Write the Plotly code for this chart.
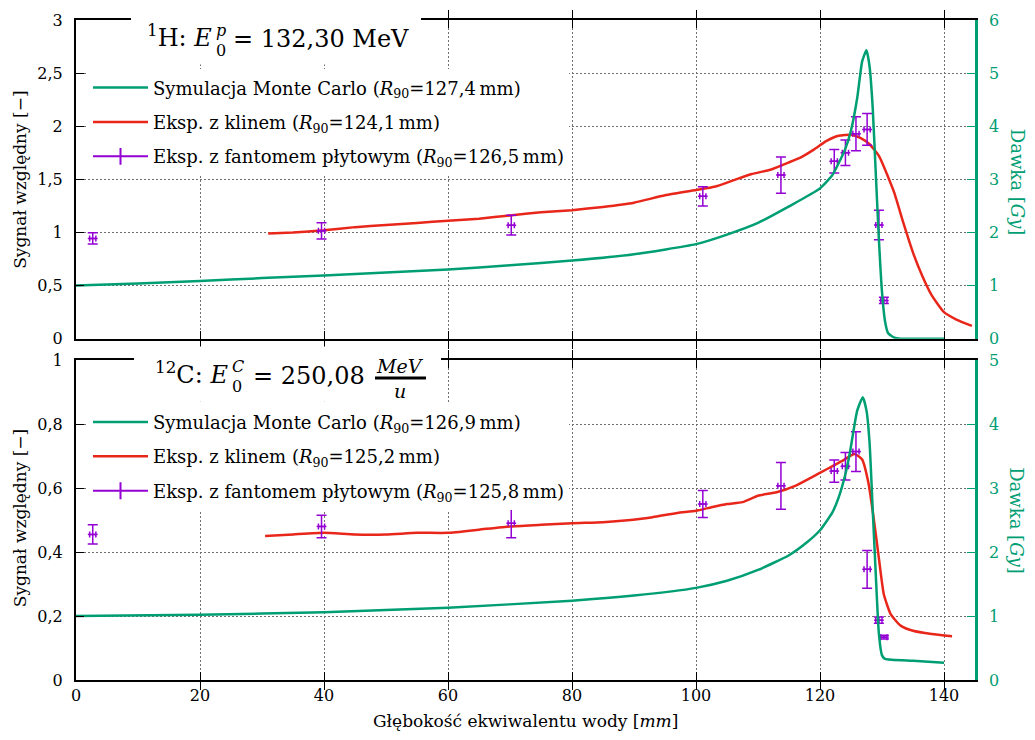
import plotly.graph_objects as go

# ---------------------------------------------------------------- data
# proton beam (top panel)
mc_p_x = [0, 10, 20, 30, 40, 50, 60, 70, 80, 90, 100, 105, 110, 115, 120, 122, 124, 125, 126,
          126.8, 127.5, 128, 128.5, 129, 129.5, 130, 130.5, 131, 132, 133, 140]
mc_p_dose = [1.0, 1.04, 1.086, 1.14, 1.19, 1.245, 1.30, 1.38, 1.47, 1.59, 1.78, 1.96, 2.18, 2.49,
             2.83, 3.08, 3.55, 3.92, 4.53, 5.22, 5.43, 5.12, 4.35, 3.1, 1.87, 0.88, 0.32, 0.1,
             0.02, 0.0, 0.0]

wedge_p_x = [31, 35, 40, 45, 50, 55, 60, 65, 70, 75, 80, 85, 90, 95, 100, 103, 106, 109, 112, 115,
             117, 119, 121, 123, 125, 126.5, 128, 129.5, 131, 132, 133.5, 135, 136.5, 138, 140,
             142, 144.5]
wedge_p_sig = [0.99, 1.0, 1.02, 1.05, 1.07, 1.09, 1.11, 1.13, 1.16, 1.19, 1.21, 1.24, 1.28, 1.35,
               1.40, 1.43, 1.49, 1.55, 1.59, 1.66, 1.71, 1.78, 1.86, 1.91, 1.92, 1.89, 1.83, 1.72,
               1.52, 1.37, 1.08, 0.81, 0.59, 0.41, 0.25, 0.18, 0.12]

plate_x = [2.7, 39.6, 70.2, 101.1, 113.7, 122.3, 124.1, 125.8, 127.6, 129.5, 130.3]
plate_p_sig = [0.944, 1.015, 1.068, 1.34, 1.54, 1.67, 1.75, 1.93, 1.97, 1.07, 0.36]
plate_p_err = [0.052, 0.077, 0.093, 0.09, 0.17, 0.11, 0.12, 0.16, 0.15, 0.14, 0.03]

# carbon beam (bottom panel)
mc_c_x = [0, 20, 40, 60, 80, 90, 100, 105, 110, 115, 118, 120, 122, 123, 124, 124.8, 125.5, 126,
          126.9, 127.5, 128, 128.5, 129, 129.5, 130, 130.5, 135, 140]
mc_c_dose = [1.0, 1.02, 1.06, 1.13, 1.24, 1.32, 1.44, 1.55, 1.72, 1.95, 2.16, 2.34, 2.62, 2.85,
             3.18, 3.54, 3.95, 4.21, 4.42, 4.21, 3.70, 2.67, 1.64, 0.72, 0.385, 0.33, 0.30, 0.27]

wedge_c_x = [30.5, 35, 40, 45, 50, 55, 60, 65, 70, 75, 80, 85, 89, 93, 97, 100, 102.5, 105, 107.5,
             110, 113, 116, 118.5, 121, 123.5, 125.6, 126.8, 127.8, 128.6, 129.5, 130.3, 131.4,
             133, 135, 138, 141.3]
wedge_c_sig = [0.45, 0.455, 0.46, 0.455, 0.455, 0.46, 0.46, 0.47, 0.48, 0.485, 0.49, 0.493, 0.499,
               0.509, 0.522, 0.529, 0.54, 0.55, 0.556, 0.576, 0.587, 0.607, 0.632, 0.658, 0.684,
               0.706, 0.689, 0.617, 0.514, 0.38, 0.267, 0.206, 0.17, 0.154, 0.144, 0.137]

plate_c_sig = [0.455, 0.48, 0.49, 0.55, 0.607, 0.653, 0.668, 0.714, 0.346, 0.187, 0.134]
plate_c_err = [0.03, 0.035, 0.045, 0.042, 0.073, 0.035, 0.043, 0.062, 0.059, 0.01, 0.006]
plate_dx = 0.5

# tick labels
x_ticks = [0, 20, 40, 60, 80, 100, 120, 140]
y_top_vals = [0, 0.5, 1, 1.5, 2, 2.5, 3]
y_top_text = ['0', '0,5', '1', '1,5', '2', '2,5', '3']
y2_top_vals = [0, 1, 2, 3, 4, 5, 6]
y_bot_vals = [0, 0.2, 0.4, 0.6, 0.8, 1]
y_bot_text = ['0', '0,2', '0,4', '0,6', '0,8', '1']
y2_bot_vals = [0, 1, 2, 3, 4, 5]

names_p = ['Symulacja Monte Carlo (<i>R</i><sub>90</sub>=127,4\u2009mm)',
           'Eksp. z klinem (<i>R</i><sub>90</sub>=124,1\u2009mm)',
           'Eksp. z fantomem płytowym (<i>R</i><sub>90</sub>=126,5\u2009mm)']
names_c = ['Symulacja Monte Carlo (<i>R</i><sub>90</sub>=126,9\u2009mm)',
           'Eksp. z klinem (<i>R</i><sub>90</sub>=125,2\u2009mm)',
           'Eksp. z fantomem płytowym (<i>R</i><sub>90</sub>=125,8\u2009mm)']

# ---------------------------------------------------------------- style
GREEN = '#009e73'
RED = '#e8261a'
PURPLE = '#9400d3'
FONT = 'DejaVu Serif'
W, H = 1035, 740
ML, MR, MT, MB = 76, 60, 11, 60


def fx(p):
    return (p - ML) / (W - ML - MR)


def fy(p):
    return (H - MB - p) / (H - MT - MB)


fig = go.Figure()


def add_panel(xa, yl, yr, leg, mc_x, mc_d, kx, ky, ps, pe, names):
    fig.add_trace(go.Scatter(
        x=mc_x, y=mc_d, xaxis=xa, yaxis=yr, mode='lines', name=names[0],
        line=dict(color=GREEN, width=2.5, shape='spline', smoothing=0.5),
        legend=leg, legendgroup=leg + 'a'))
    fig.add_trace(go.Scatter(
        x=kx, y=ky, xaxis=xa, yaxis=yl, mode='lines', name=names[1],
        line=dict(color=RED, width=2.5, shape='spline', smoothing=0.5),
        legend=leg, legendgroup=leg + 'b'))
    fig.add_trace(go.Scatter(
        x=plate_x, y=ps, xaxis=xa, yaxis=yl, mode='markers', showlegend=False,
        marker=dict(symbol='line-ew', size=7, color=PURPLE,
                    line=dict(color=PURPLE, width=1.5)),
        error_y=dict(type='data', array=pe, color=PURPLE, thickness=1.5, width=5),
        error_x=dict(type='constant', value=plate_dx, color=PURPLE, thickness=1.5, width=3),
        legendgroup=leg + 'c'))
    # legend key for the plate-phantom series
    fig.add_trace(go.Scatter(
        x=[None], y=[None], xaxis=xa, yaxis=yl, mode='lines+markers', name=names[2],
        line=dict(color=PURPLE, width=2),
        marker=dict(symbol='line-ns', size=12, color=PURPLE,
                    line=dict(color=PURPLE, width=2)),
        legend=leg, legendgroup=leg + 'c'))


add_panel('x2', 'y', 'y2', 'legend', mc_p_x, mc_p_dose, wedge_p_x, wedge_p_sig,
          plate_p_sig, plate_p_err, names_p)
add_panel('x', 'y3', 'y4', 'legend2', mc_c_x, mc_c_dose, wedge_c_x, wedge_c_sig,
          plate_c_sig, plate_c_err, names_c)

tickfont = dict(family=FONT, size=16, color='black')
gtickfont = dict(family=FONT, size=16, color=GREEN)
grid = dict(showgrid=True, gridcolor='#707070', gridwidth=1, griddash='2px,2px')

xcommon = dict(range=[0, 145], tickvals=x_ticks, ticks='inside', ticklen=8, tickwidth=1.2,
               tickcolor='black', showline=True, linecolor='black', linewidth=2,
               mirror='allticks', zeroline=False, tickfont=tickfont, **grid)
ycommon = dict(ticks='inside', ticklen=8, tickwidth=1.2, tickcolor='black', showline=True,
               linecolor='black', linewidth=2, zeroline=False, tickfont=tickfont,
               ticklabelstandoff=8, **grid)
yrcommon = dict(side='right', ticks='inside', ticklen=8, tickwidth=1.2, tickcolor=GREEN,
                showline=True, linecolor=GREEN, linewidth=2.5, zeroline=False,
                showgrid=False, tickfont=gtickfont, ticklabelstandoff=8)

top_lo = fy(334)
bot_hi = fy(355.7)

legfont = dict(family=FONT, size=18)
fig.update_layout(
    width=W, height=H, margin=dict(l=ML, r=MR, t=MT, b=MB),
    paper_bgcolor='white', plot_bgcolor='white',
    font=dict(family=FONT, size=17, color='black'),
    xaxis=dict(domain=[0, 1], anchor='y3', **xcommon),
    xaxis2=dict(domain=[0, 1], anchor='y', matches='x', showticklabels=False, **xcommon),
    yaxis=dict(domain=[top_lo, 1], anchor='x2', range=[0, 3], tickvals=y_top_vals,
               ticktext=y_top_text, **ycommon),
    yaxis2=dict(overlaying='y', anchor='x2', range=[0, 6], tickvals=y2_top_vals, **yrcommon),
    yaxis3=dict(domain=[0, bot_hi], anchor='x', range=[0, 1], tickvals=y_bot_vals,
                ticktext=y_bot_text, **ycommon),
    yaxis4=dict(overlaying='y3', anchor='x', range=[0, 5], tickvals=y2_bot_vals, **yrcommon),
    legend=dict(x=fx(88), y=fy(61), xanchor='left', yanchor='top', bgcolor='white',
                font=legfont, tracegroupgap=8, traceorder='grouped', itemwidth=55),
    legend2=dict(x=fx(88), y=fy(400), xanchor='left', yanchor='top', bgcolor='white',
                 font=legfont, tracegroupgap=8, traceorder='grouped', itemwidth=55),
    showlegend=True,
)

shapes = [
    # white boxes behind the panel headings
    dict(type='rect', xref='paper', yref='paper', x0=fx(131), x1=fx(421), y0=fy(56), y1=fy(-2),
         fillcolor='white', line=dict(width=0), layer='above'),
    dict(type='rect', xref='paper', yref='paper', x0=fx(134), x1=fx(441), y0=fy(398), y1=fy(342),
         fillcolor='white', line=dict(width=0), layer='above'),
    # fraction bar of MeV/u
    dict(type='line', xref='paper', yref='paper', x0=fx(375), x1=fx(426), y0=fy(374), y1=fy(374),
         line=dict(color='black', width=3), layer='above'),
]
fig.update_layout(shapes=shapes)


def ann(text, x, y, size, xanchor='left', yanchor='middle', color='black', angle=0):
    fig.add_annotation(text=text, xref='paper', yref='paper', x=fx(x), y=fy(y),
                       xanchor=xanchor, yanchor=yanchor, showarrow=False, textangle=angle,
                       align='left', font=dict(family=FONT, size=size, color=color))


# headings (sub- and superscript of E stacked as separate labels)
ann('<sup>1</sup>H: <i>E</i>', 214, 27, 24, xanchor='right')
ann('<i>p</i>', 214, 22, 16)
ann('0', 214, 42, 16)
ann('= 132,30 MeV', 231, 30, 24)

ann('<sup>12</sup>C: <i>E</i>', 230, 369, 24, xanchor='right')
ann('<i>C</i>', 230, 362, 16)
ann('0', 230, 382, 16)
ann('= 250,08', 251, 372, 24)
ann('<i>MeV</i>', 400, 362, 19, xanchor='center')
ann('<i>u</i>', 400, 387, 19, xanchor='center')

# axis titles
ann('Sygnał względny [−]', 20, 173, 17, xanchor='center', angle=-90)
ann('Sygnał względny [−]', 20, 516, 17, xanchor='center', angle=-90)
ann('Dawka [<i>Gy</i>]', 1017, 175, 18, xanchor='center', color=GREEN, angle=90)
ann('Dawka [<i>Gy</i>]', 1017, 518, 18, xanchor='center', color=GREEN, angle=90)
ann('Głębokość ekwiwalentu wody [<i>mm</i>]', 525, 722, 17, xanchor='center')

fig.write_html('out.html')
